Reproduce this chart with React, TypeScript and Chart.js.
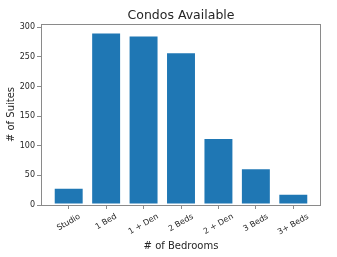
import React, { useEffect, useRef } from "react";
import { Chart, registerables } from "chart.js";

Chart.register(...registerables);

const TITLE = "Condos Available";
const X_TITLE = "# of Bedrooms";
const Y_TITLE = "# of Suites";
const categories = ["Studio", "1 Bed", "1 + Den", "2 Beds", "2 + Den", "3 Beds", "3+ Beds"];
const suites = [29, 291, 286, 258, 113, 62, 19];
const yTicks = [0, 50, 100, 150, 200, 250, 300];
const Y_MAX = 305.5;
const X_MIN = -0.74;
const X_MAX = 6.74;

const FONT = '"DejaVu Sans", "Liberation Sans", sans-serif';
const TEXT = "#262626";
const SPINE = "#8a8a8a";

const textPlugin = {
  id: "mplText",
  afterDatasetsDraw(chart: any) {
    const { ctx, chartArea: a } = chart;
    ctx.save();
    ctx.strokeStyle = SPINE;
    ctx.lineWidth = 1;
    ctx.strokeRect(Math.round(a.left) + 0.5, Math.round(a.top) + 0.5, Math.round(a.right - a.left) - 1, Math.round(a.bottom - a.top));
    ctx.restore();
  },
  afterDraw(chart: any) {
    const { ctx, chartArea: a, scales } = chart;
    const x = scales.x;
    const cx = (a.left + a.right) / 2;
    ctx.save();
    ctx.fillStyle = TEXT;
    ctx.textAlign = "center";
    ctx.textBaseline = "alphabetic";
    ctx.font = `12.5px ${FONT}`;
    ctx.fillText(TITLE, cx, 19);
    ctx.font = `10px ${FONT}`;
    ctx.fillText(X_TITLE, cx, 249);
    ctx.save();
    ctx.translate(11, (a.top + a.bottom) / 2);
    ctx.rotate(-Math.PI / 2);
    ctx.textBaseline = "middle";
    ctx.fillText(Y_TITLE, 0, 0);
    ctx.restore();

    ctx.font = `8px ${FONT}`;
    const th = (30 * Math.PI) / 180;
    const h = 8 * 1.16;
    categories.forEach((c, i) => {
      const px = x.getPixelForValue(i);
      const w = ctx.measureText(c).width;
      const H = w * Math.sin(th) + h * Math.cos(th);
      const cy = a.bottom + 7 + H / 2;
      ctx.save();
      ctx.translate(px, cy);
      ctx.rotate(-th);
      ctx.textAlign = "center";
      ctx.textBaseline = "middle";
      ctx.fillText(c, 0, 0);
      ctx.restore();
    });
    ctx.restore();
  },
};

export default function App() {
  const ref = useRef<HTMLCanvasElement>(null);
  useEffect(() => {
    document.body.style.margin = "0";
    const canvas = ref.current!;
    const chart = new Chart(canvas, {
      type: "bar",
      data: {
        datasets: [
          {
            data: categories.map((_, i) => ({ x: i, y: suites[i] })),
            backgroundColor: "#1f77b4",
            borderColor: "rgba(255,255,255,0.45)",
            borderWidth: 1,
            borderSkipped: false,
            barPercentage: 0.8,
            categoryPercentage: 1,
          },
        ],
      },
      options: {
        animation: false,
        responsive: false,
        devicePixelRatio: 1,
        layout: { padding: { top: 24, right: 16, left: 0, bottom: 0 } },
        plugins: { legend: { display: false }, title: { display: false }, tooltip: { enabled: false } },
        scales: {
          x: {
            type: "linear",
            offset: false,
            min: X_MIN,
            max: X_MAX,
            afterBuildTicks: (s: any) => {
              s.ticks = categories.map((_, i) => ({ value: i }));
            },
            afterFit: (s: any) => {
              s.height = 52;
            },
            ticks: { display: false },
            grid: { display: true, offset: false, drawOnChartArea: false, drawTicks: true, tickLength: 4, color: SPINE },
            border: { display: false },
          },
          y: {
            type: "linear",
            min: 0,
            max: Y_MAX,
            afterBuildTicks: (s: any) => {
              s.ticks = yTicks.map((v) => ({ value: v }));
            },
            afterFit: (s: any) => {
              s.width = 41;
            },
            ticks: { font: { family: FONT, size: 8 }, color: TEXT, padding: 2 },
            grid: { display: true, drawOnChartArea: false, drawTicks: true, tickLength: 4, color: SPINE },
            border: { display: false },
          },
        },
      },
      plugins: [textPlugin],
    } as any);
    return () => chart.destroy();
  }, []);
  return (
    <div style={{ width: 337, height: 257, background: "#fff" }}>
      <canvas ref={ref} width={337} height={257} style={{ display: "block" }} />
    </div>
  );
}
